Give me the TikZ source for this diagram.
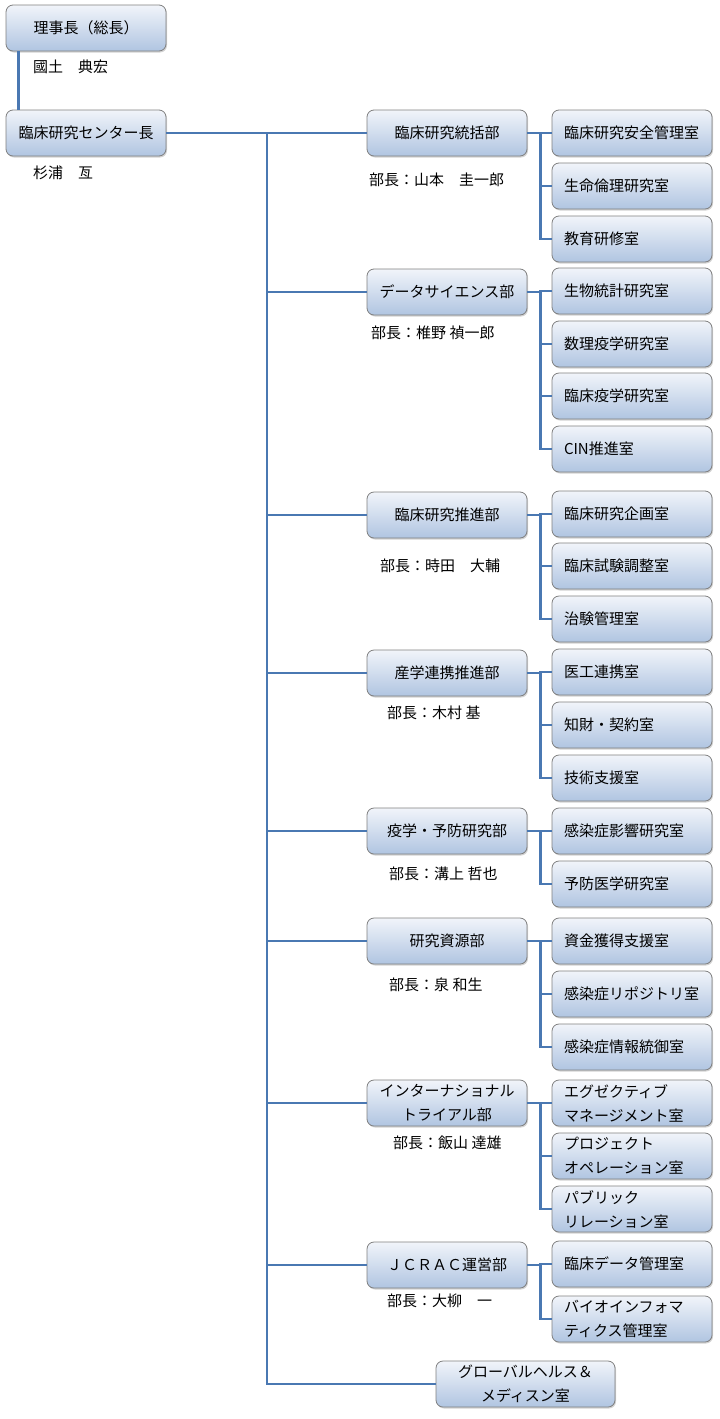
\documentclass[tikz,border=0pt]{standalone}
\usepackage{fontspec}
\setmainfont{Noto Sans CJK JP}
\usetikzlibrary{shadows}
\definecolor{linec}{HTML}{4A78B2}
\definecolor{boxtop}{HTML}{F1F4FA}
\definecolor{boxbot}{HTML}{B0C5E1}
\definecolor{boxdraw}{HTML}{808080}
\tikzset{
  boxbase/.style={draw=boxdraw, line width=0.8pt, rounded corners=7pt,
    top color=boxtop, bottom color=boxbot, minimum height=46pt,
    drop shadow={opacity=0.35, shadow xshift=1pt, shadow yshift=-1.5pt},
    font=\fontsize{15}{24}\selectfont},
  topbox/.style={boxbase, minimum width=160pt, align=center},
  deptbox/.style={boxbase, minimum width=160pt, align=center},
  subbox/.style={boxbase, text width=136pt, inner xsep=12pt, align=left},
  mgr/.style={anchor=west, inner sep=0pt, font=\fontsize{15}{17.5}\selectfont},
  conn/.style={draw=linec, line width=2.4pt},
}
\begin{document}
\begin{tikzpicture}[x=1pt,y=-1pt]
\useasboundingbox (0,0) rectangle (720,1419);
% top
\node[topbox] (chair) at (86,28) {理事長（総長）};
\node[mgr] (chairname) at (33,67) {國土　典宏};
\node[topbox] (ctr) at (86,133) {臨床研究センター長};
\node[mgr] (ctrname) at (33,173) {杉浦　亙};
% departments
\node[deptbox] (d1) at (447,133) {臨床研究統括部};
\node[mgr] (m1) at (369,180) {部長：山本　圭一郎};
\node[deptbox] (d2) at (447,292) {データサイエンス部};
\node[mgr] (m2) at (371,333) {部長：椎野 禎一郎};
\node[deptbox] (d3) at (447,515) {臨床研究推進部};
\node[mgr] (m3) at (380,566) {部長：時田　大輔};
\node[deptbox] (d4) at (447,673) {産学連携推進部};
\node[mgr] (m4) at (387,713) {部長：木村 基};
\node[deptbox] (d5) at (447,831) {疫学・予防研究部};
\node[mgr] (m5) at (389,874) {部長：溝上 哲也};
\node[deptbox] (d6) at (447,941) {研究資源部};
\node[mgr] (m6) at (389,985) {部長：泉 和生};
\node[deptbox] (d7) at (447,1103) {インターナショナル\\トライアル部};
\node[mgr] (m7) at (393,1143) {部長：飯山 達雄};
\node[deptbox] (d8) at (447,1265) {ＪＣＲＡＣ運営部};
\node[mgr] (m8) at (387,1301) {部長：大柳　一};
\node[deptbox, minimum width=179pt] (gh) at (525.5,1384) {グローバルヘルス＆\\メディスン室};
% sub-units
\node[subbox] (s11) at (632,133) {臨床研究安全管理室};
\node[subbox] (s12) at (632,186) {生命倫理研究室};
\node[subbox] (s13) at (632,239) {教育研修室};
\node[subbox] (s21) at (632,291) {生物統計研究室};
\node[subbox] (s22) at (632,344) {数理疫学研究室};
\node[subbox] (s23) at (632,396) {臨床疫学研究室};
\node[subbox] (s24) at (632,449) {CIN推進室};
\node[subbox] (s31) at (632,514) {臨床研究企画室};
\node[subbox] (s32) at (632,566) {臨床試験調整室};
\node[subbox] (s33) at (632,619) {治験管理室};
\node[subbox] (s41) at (632,672) {医工連携室};
\node[subbox] (s42) at (632,725) {知財・契約室};
\node[subbox] (s43) at (632,778) {技術支援室};
\node[subbox] (s51) at (632,831) {感染症影響研究室};
\node[subbox] (s52) at (632,884) {予防医学研究室};
\node[subbox] (s61) at (632,941) {資金獲得支援室};
\node[subbox] (s62) at (632,994) {感染症リポジトリ室};
\node[subbox] (s63) at (632,1047) {感染症情報統御室};
\node[subbox] (s71) at (632,1103) {エグゼクティブ\\マネージメント室};
\node[subbox] (s72) at (632,1156) {プロジェクト\\オペレーション室};
\node[subbox] (s73) at (632,1209) {パブリック\\リレーション室};
\node[subbox] (s81) at (632,1264) {臨床データ管理室};
\node[subbox] (s82) at (632,1319) {バイオインフォマ\\ティクス管理室};
% connectors
\draw[conn] ([xshift=13pt]chair.south west) -- ([xshift=13pt]ctr.north west);
\coordinate (trunktop) at (267,133);
\coordinate (trunkbot) at (267,1384);
\draw[conn] (ctr.east) -- (trunktop) -- (trunkbot) -- (gh.west);
\foreach \d in {d1,d2,d3,d4,d5,d6,d7,d8}{
  \draw[conn] (\d.west -| trunktop) -- (\d.west);
}
\foreach \d/\subs in {d1/{s11,s12,s13},d2/{s21,s22,s23,s24},d3/{s31,s32,s33},d4/{s41,s42,s43},d5/{s51,s52},d6/{s61,s62,s63},d7/{s71,s72,s73},d8/{s81,s82}}{
  \foreach \s in \subs {
    \draw[conn] (\d.east) -- ++(13,0) |- (\s.west);
  }
}
\end{tikzpicture}
\end{document}
